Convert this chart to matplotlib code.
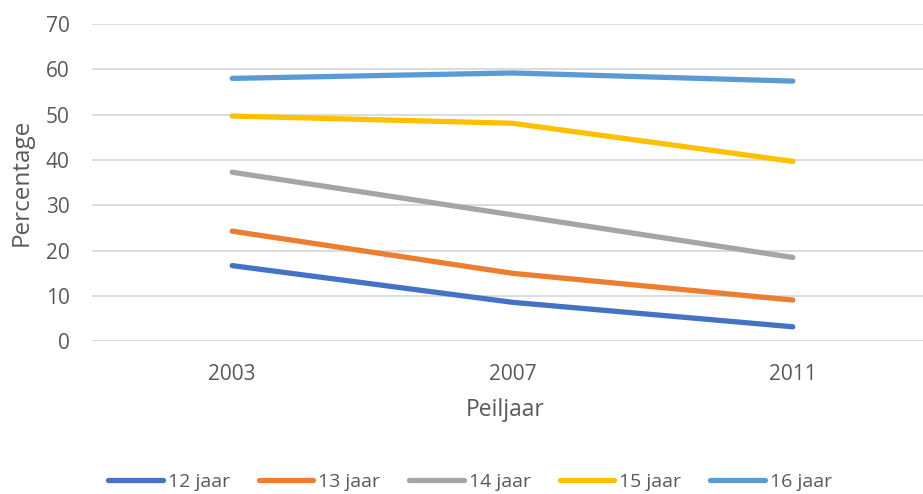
import matplotlib.pyplot as plt
import numpy as np

plt.rcParams['font.family'] = ['Open Sans', 'DejaVu Sans']

years = ["2003", "2007", "2011"]
series = ["12 jaar", "13 jaar", "14 jaar", "15 jaar", "16 jaar"]
pct_12 = [16.7, 8.6, 3.2]
pct_13 = [24.3, 15.0, 9.1]
pct_14 = [37.3, 27.9, 18.5]
pct_15 = [49.7, 48.1, 39.7]
pct_16 = [58.0, 59.2, 57.4]
colors = ["#4472C4", "#ED7D31", "#A5A5A5", "#FFC000", "#5B9BD5"]

W, H = 923, 494
fig = plt.figure(figsize=(W / 100, H / 100), dpi=100)
# axes runs a bit past the right edge of the figure
ax = fig.add_axes([92 / W, (H - 341.3) / H, (933 - 92) / W, (341.3 - 24) / H])

x = np.arange(len(years))
for vals, name, c in zip([pct_12, pct_13, pct_14, pct_15, pct_16], series, colors):
    ax.plot(x, vals, color=c, lw=3.8, solid_capstyle='round',
            solid_joinstyle='round', label=name)

ax.set_xlim(-0.5, 2.5)
ax.set_ylim(0, 70)
ax.set_yticks(range(0, 71, 10))
ax.set_xticks(x, years)
ax.grid(axis='y', color='#D9D9D9', lw=1.3)
ax.set_axisbelow(True)
for s in ax.spines.values():
    s.set_visible(False)
ax.tick_params(length=0, labelsize=15, labelcolor='#595959')
ax.tick_params(axis='y', pad=16)
ax.tick_params(axis='x', pad=16)

fig.text(22 / W, 1 - 182 / H, "Percentage", rotation=90, ha='center',
         va='center', fontsize=17.5, color='#595959')
fig.text(505 / W, 1 - 410 / H, "Peiljaar", ha='center', va='center',
         fontsize=16.5, color='#595959')

fig.legend(loc='center', bbox_to_anchor=(470 / W, 1 - 482 / H), ncol=5,
           frameon=False, fontsize=14, labelcolor='#595959',
           handlelength=2.8, handletextpad=0.25, columnspacing=1.5)

fig.savefig("out.png", dpi=100)
